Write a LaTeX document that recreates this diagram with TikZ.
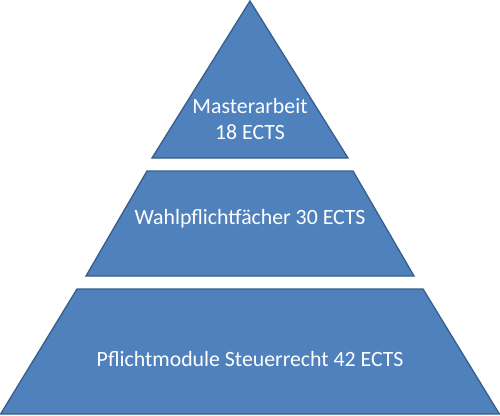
\documentclass[tikz,border=0pt]{standalone}
\usepackage{fontspec}
\setmainfont{Carlito}
\definecolor{tierblue}{HTML}{4F81BD}
\definecolor{tierline}{HTML}{385D8A}

\begin{document}
\begin{tikzpicture}[x=1pt, y=-1pt, font=\fontsize{21.8}{26}\selectfont,
  tier/.style={fill=tierblue, draw=tierline, line width=1.3pt, line join=miter},
  lbl/.style={text=white, align=center, inner sep=0pt, anchor=base}]
\useasboundingbox (0,0) rectangle (500,415);
% three tiers of the pyramid
\draw[tier] (250,1) -- (348,158) -- (152,158) -- cycle;
\draw[tier] (147,171) -- (353,171) -- (414,276) -- (86,276) -- cycle;
\draw[tier] (77,289) -- (423,289) -- (499.4,414) -- (0.6,414) -- cycle;
% labels
\node[lbl] (master) at (250,139) {Masterarbeit\\18 ECTS};
\node[lbl] (wahl) at (250,224) {Wahlpflichtfächer 30 ECTS};
\node[lbl] (pflicht) at (250,366) {Pflichtmodule Steuerrecht 42 ECTS};
\end{tikzpicture}
\end{document}
